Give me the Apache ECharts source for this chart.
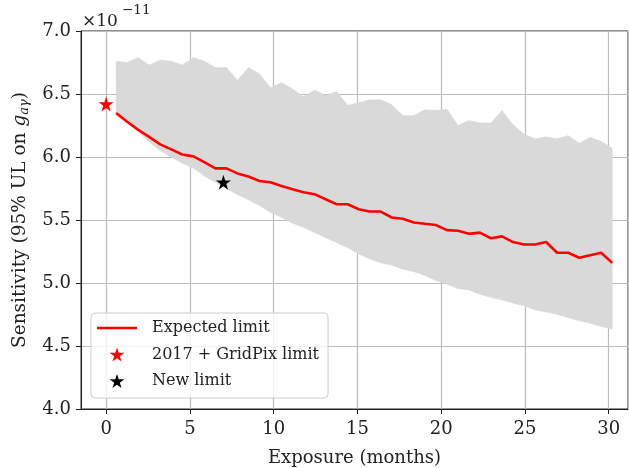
<!DOCTYPE html>
<html>
<head>
<meta charset="utf-8">
<script src="https://cdn.jsdelivr.net/npm/echarts@6/dist/echarts.min.js"></script>
<style>
  html, body { margin: 0; padding: 0; background: #fff; }
  #chart { width: 629px; height: 468px; }
</style>
</head>
<body>
<div id="chart"></div>
<script>
// exposure in months, one entry per simulated point
var months = [0.6, 1.26, 1.92, 2.57, 3.23, 3.89, 4.55, 5.21, 5.86, 6.52,
  7.18, 7.84, 8.5, 9.15, 9.81, 10.47, 11.13, 11.79, 12.44, 13.1,
  13.76, 14.42, 15.08, 15.73, 16.39, 17.05, 17.71, 18.37, 19.02, 19.68,
  20.34, 21.0, 21.66, 22.31, 22.97, 23.63, 24.29, 24.95, 25.6, 26.26,
  26.92, 27.58, 28.24, 28.89, 29.55, 30.21];

// expected limit (units of 1e-11)
var expectedLimit = [6.35, 6.28, 6.215, 6.16, 6.10, 6.06, 6.02, 6.005, 5.96, 5.91,
  5.91, 5.87, 5.845, 5.81, 5.80, 5.77, 5.745, 5.72, 5.705, 5.665,
  5.625, 5.625, 5.585, 5.567, 5.567, 5.52, 5.51, 5.48, 5.47, 5.46,
  5.42, 5.415, 5.39, 5.40, 5.355, 5.37, 5.325, 5.305, 5.305, 5.325,
  5.24, 5.24, 5.20, 5.22, 5.24, 5.16];

// band edges
var bandLow = [6.33, 6.27, 6.20, 6.12, 6.05, 6.00, 5.95, 5.91, 5.85, 5.80,
  5.75, 5.70, 5.66, 5.615, 5.56, 5.52, 5.475, 5.44, 5.40, 5.36,
  5.32, 5.28, 5.23, 5.19, 5.16, 5.14, 5.11, 5.09, 5.06, 5.02,
  4.99, 4.955, 4.945, 4.91, 4.885, 4.865, 4.84, 4.82, 4.785, 4.77,
  4.75, 4.725, 4.70, 4.68, 4.655, 4.635];
var bandHigh = [6.76, 6.75, 6.79, 6.73, 6.77, 6.76, 6.73, 6.79, 6.76, 6.71,
  6.71, 6.61, 6.71, 6.66, 6.55, 6.59, 6.54, 6.48, 6.53, 6.49,
  6.52, 6.41, 6.43, 6.455, 6.455, 6.415, 6.33, 6.33, 6.375, 6.37,
  6.38, 6.25, 6.29, 6.27, 6.27, 6.37, 6.255, 6.18, 6.145, 6.16,
  6.145, 6.17, 6.11, 6.155, 6.125, 6.07];

var gridpixLimit = [[0, 6.42]];
var newLimit = [[7, 5.80]];

var serif = 'DejaVu Serif';
var starPath = 'path://M100,0 L122.45,69.1 L195.11,69.1 L136.33,111.8 L158.78,180.9 L100,138.2 L41.22,180.9 L63.67,111.8 L4.89,69.1 L77.55,69.1 Z';
var lineIcon = 'path://M0,0 H40 V2.6 H0 Z';

var myChart = echarts.init(document.getElementById('chart'));

// whole band drawn as one polygon (upper edge forward, lower edge back)
function renderBand(params, api) {
  if (params.dataIndex !== 0) return;
  var pts = [];
  for (var i = 0; i < months.length; i++) pts.push(api.coord([months[i], bandHigh[i]]));
  for (var j = months.length - 1; j >= 0; j--) pts.push(api.coord([months[j], bandLow[j]]));
  return {
    type: 'polygon',
    shape: { points: pts },
    style: { fill: '#d9d9d9', stroke: '#d9d9d9', lineWidth: 0.5 }
  };
}

var option = {
  animation: false,
  grid: {
    left: 81, right: 1, top: 31, bottom: 59,
    outerBoundsMode: 'none',
    containLabel: false,
    show: true, borderColor: '#222', borderWidth: 1, backgroundColor: 'transparent'
  },
  xAxis: {
    type: 'value',
    min: -1.5,
    max: 31.15,
    splitNumber: 6,
    name: 'Exposure (months)',
    nameLocation: 'middle',
    nameGap: 40,
    nameTextStyle: { fontFamily: serif, fontSize: 18, color: '#222' },
    axisLine: { onZero: false, lineStyle: { color: '#222', width: 1 } },
    axisTick: { show: true, length: 5, lineStyle: { color: '#222' } },
    axisLabel: {
      fontFamily: serif, fontSize: 18, color: '#222', margin: 11,
      showMinLabel: false, showMaxLabel: false,
      formatter: function (v) { return v % 5 === 0 ? String(v) : ''; }
    },
    splitLine: { show: true, lineStyle: { color: '#bdbdbd', width: 1.2 } }
  },
  yAxis: {
    type: 'value',
    min: 4,
    max: 7,
    interval: 0.5,
    name: '{t|Sensitivity (95% UL on }{g|g}{s|aγ}{t|)}',
    nameLocation: 'middle',
    nameGap: 48,
    nameTextStyle: {
      rich: {
        t: { fontFamily: serif, fontSize: 18.5, color: '#222' },
        g: { fontFamily: serif, fontSize: 18.5, fontStyle: 'italic', color: '#222' },
        s: { fontFamily: serif, fontSize: 13, fontStyle: 'italic', color: '#222', padding: [9, 0, 0, 0] }
      }
    },
    axisLine: { show: true, onZero: false, lineStyle: { color: '#222', width: 1 } },
    axisTick: { show: true, length: 5, lineStyle: { color: '#222' } },
    axisLabel: {
      fontFamily: serif, fontSize: 18, color: '#222', margin: 10,
      formatter: function (v) { return v.toFixed(1); }
    },
    splitLine: { show: true, lineStyle: { color: '#bdbdbd', width: 1.2 } }
  },
  legend: {
    data: [
      { name: 'Expected limit', icon: lineIcon },
      '2017 + GridPix limit',
      'New limit'
    ],
    orient: 'vertical',
    left: 91,
    top: 313,
    padding: [7, 9, 9, 6],
    itemWidth: 40,
    itemHeight: 14,
    itemGap: 10.5,
    backgroundColor: 'rgba(255,255,255,0.8)',
    borderColor: '#cccccc',
    borderWidth: 1,
    borderRadius: 4,
    textStyle: { fontFamily: serif, fontSize: 16, color: '#222', padding: [0, 0, 0, 10] }
  },
  graphic: [
    { type: 'text', x: 82, y: 30, style: { text: '×10', fontFamily: serif, fontSize: 17, fill: '#222', verticalAlign: 'bottom' } },
    { type: 'text', x: 122, y: 3, style: { text: '−11', fontFamily: serif, fontSize: 13.5, fill: '#222', verticalAlign: 'top' } }
  ],
  series: [
    {
      name: 'band',
      type: 'custom',
      silent: true,
      renderItem: renderBand,
      encode: { x: 0, y: [1, 2] },
      data: months.map(function (m, i) { return [m, bandLow[i], bandHigh[i]]; }),
      z: 1
    },
    {
      name: 'Expected limit',
      type: 'line',
      symbol: 'none',
      lineStyle: { color: '#ff0000', width: 2.6 },
      itemStyle: { color: '#ff0000' },
      data: months.map(function (m, i) { return [m, expectedLimit[i]]; }),
      z: 3
    },
    {
      name: '2017 + GridPix limit',
      type: 'scatter',
      symbol: starPath,
      symbolSize: 15,
      itemStyle: { color: '#ff0000', opacity: 1 },
      data: gridpixLimit,
      z: 4
    },
    {
      name: 'New limit',
      type: 'scatter',
      symbol: starPath,
      symbolSize: 15,
      itemStyle: { color: '#000000', opacity: 1 },
      data: newLimit,
      z: 4
    }
  ]
};

myChart.setOption(option);
</script>
</body>
</html>
